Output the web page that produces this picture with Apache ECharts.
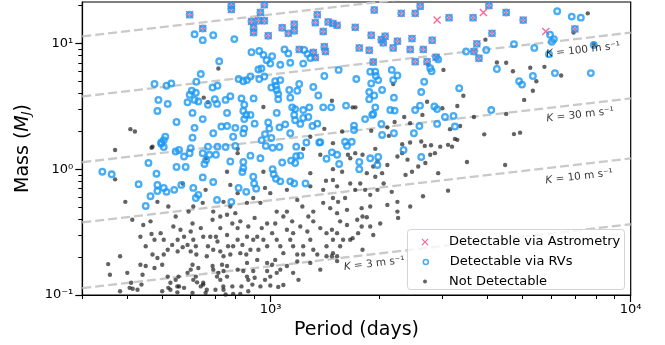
<!DOCTYPE html>
<html><head><meta charset="utf-8">
<script src="https://cdn.jsdelivr.net/npm/echarts@6/dist/echarts.min.js"></script>
<style>html,body{margin:0;padding:0;background:#fff}#c{width:665px;height:345px}</style>
</head><body><div id="c"></div><script>
// ---------- data (period in days, mass in Jupiter masses) ----------
const periodRange = [300, 10000];
const massRange = [0.1, 21.3];
const xMajorTicks = [1000, 10000];
const xMinorTicks = [300,400,500,600,700,800,900,2000,3000,4000,5000,6000,7000,8000,9000];
const yMajorTicks = [0.1, 1, 10];
const yMinorTicks = [0.2,0.3,0.4,0.5,0.6,0.7,0.8,0.9,2,3,4,5,6,7,8,9,20];

// RV semi-amplitude reference lines: K (m/s) and mass at the two ends of the period range
const kValues = [3, 10, 30, 100, 300];
const kMassAtPmin = [0.1135, 0.378, 1.135, 3.78, 11.35];
const kMassAtPmax = [0.365, 1.217, 3.65, 12.17, 36.5];
const kLabelK = [3, 10, 30, 100];
const kLabelPeriod = [1940, 7190, 7236, 7375];
const kLabelMass = [0.177, 0.87, 2.7, 8.85];

// detectable via astrometry AND RVs
const astroWithRv = [[596,16.9],[778,20.0],[778,18.6],[961,20.3],[937,17.6],[885,14.9],[925,15.1],[961,15.1],[897,13.3],[897,12.2],[648,13.1],[985,11.5],[1077,13.3],[1163,14.2],[1163,12.6],[1120,12.0],[1348,16.9],[1331,14.6],[1400,12.4],[1445,14.8],[1490,14.4],[1530,13.9],[1718,13.4],[1940,18.4],[1903,11.6],[1763,9.2],[1879,8.8],[1928,7.1],[1201,8.95],[1314,8.45],[1331,7.7],[1410,9.4],[1420,8.6],[2306,17.3],[2521,17.3],[2603,19.7],[3130,16.0],[3650,16.0],[4040,20.0],[4510,17.6],[5030,15.3],[7000,13.0],[4120,12.0],[3740,9.9],[3670,8.6],[3790,7.6],[2030,10.7],[2080,11.4],[2055,10.1],[2190,9.2],[2250,10.4],[2470,10.9],[2442,8.95],[2655,8.95],[2810,10.6],[2880,7.75],[2521,7.15],[2720,7.15]];
// detectable via astrometry only
const astroOnly = [[2900,15.3],[3900,17.6],[5810,12.4]];
// detectable via RVs only
const rvOnly = [[615,11.8],[648,10.6],[693,11.6],[793,10.8],[1240,8.85],[1265,8.25],[1289,7.65],[1232,6.9],[1093,8.95],[1120,8.3],[1134,7.0],[1064,6.75],[885,8.5],[930,8.7],[955,8.1],[975,7.35],[998,6.9],[1010,7.9],[720,7.2],[925,6.2],[943,6.3],[640,5.7],[622,4.95],[476,4.75],[514,4.6],[530,4.8],[604,4.2],[596,3.9],[620,4.05],[615,3.55],[630,3.45],[670,3.25],[700,3.6],[710,3.3],[690,4.45],[712,4.6],[815,5.2],[840,5.0],[860,5.1],[879,5.45],[930,5.2],[961,5.45],[1030,5.0],[1064,5.1],[1005,4.45],[1035,4.6],[1040,4.26],[1050,3.95],[1050,3.6],[1127,4.26],[1201,4.75],[1186,4.2],[1134,3.7],[1357,3.85],[1314,4.5],[1410,5.5],[1545,6.15],[1730,5.2],[1879,4.1],[1903,4.8],[1953,5.95],[1990,5.1],[1940,3.85],[1473,3.1],[1400,3.1],[1620,3.2],[1953,3.1],[1915,2.7],[488,3.55],[518,3.3],[485,2.9],[548,2.37],[588,3.4],[607,2.8],[648,2.5],[757,2.8],[773,3.8],[750,3.55],[830,3.65],[845,3.25],[897,3.65],[840,2.9],[856,2.7],[845,2.5],[879,2.7],[1040,2.8],[1148,3.1],[1170,3.0],[1232,2.95],[1281,3.1],[1273,2.6],[1232,2.55],[1163,2.7],[1170,2.45],[985,2.35],[992,2.1],[1058,2.15],[1098,2.27],[903,2.3],[798,2.13],[787,1.81],[845,2.1],[840,1.93],[730,2.18],[757,2.2],[693,1.93],[615,2.13],[510,1.81],[505,1.7],[497,1.59],[607,1.78],[965,1.9],[945,1.7],[1005,1.77],[1134,1.93],[1209,2.29],[1307,2.2],[1348,2.3],[1374,1.64],[1705,2.22],[1705,2.05],[1830,2.5],[1928,2.75],[1610,1.65],
[6250,18.0],[6860,16.3],[7270,16.0],[5970,11.7],[6120,10.8],[6040,10.3],[5930,8.2],[5400,9.2],[4740,9.85],[3970,8.85],[3490,8.6],[2920,7.45],[2775,6.35],[2800,6.0],[1891,5.95],[1960,5.5],[2170,6.15],[2190,5.1],[2250,5.55],[2040,4.26],[1879,3.6],[2200,3.7],[2670,4.95],[2620,4.1],[3340,4.4],[4250,6.25],[4900,5.0],[4990,4.7],[5350,5.5],[6160,5.8],[7750,5.8],[7900,9.7],[4100,2.95],[2030,2.29],[2040,1.87],[2150,2.95],[2210,2.92],[2200,1.93],[2520,2.95],[2600,3.2],[2590,2.2],[2500,1.93],[2850,3.15],[2900,3.0],[2900,2.29],[3050,2.6],[3220,2.65],[3250,2.18],
[341,0.955],[362,0.91],[458,1.12],[482,0.92],[430,0.76],[464,0.61],[450,0.51],[485,0.75],[485,0.67],[505,0.71],[514,0.66],[540,0.685],[565,0.75],[548,1.04],[581,1.04],[545,1.38],[557,1.42],[575,1.26],[596,1.34],[600,1.47],[497,1.63],[505,1.5],[610,0.71],[630,0.625],[620,0.59],[648,0.86],[648,1.34],[662,1.18],[655,1.1],[676,1.3],[705,1.3],[712,1.51],[670,1.51],[693,0.79],[710,0.57],[750,1.5],[773,1.15],[798,1.53],[840,1.14],[840,1.02],[835,0.95],[815,0.71],[856,0.66],[778,0.55],[879,1.28],[937,1.22],[895,0.87],[900,0.77],[912,0.7],[970,1.53],[1013,1.48],[1058,1.5],[1013,1.0],[1020,0.91],[1035,0.84],[1064,0.8],[1077,1.13],[1140,1.17],[1170,1.12],[1134,0.8],[1163,0.77],[1178,1.51],[1178,1.27],[1209,1.28],[1257,1.63],[1250,0.77],[1365,1.63],[1430,1.21],[1480,1.36],[1530,1.3],[1550,1.1],[1630,1.53],[1763,1.14],[1763,1.0],[1891,1.22],[1980,1.08],[1990,1.25],[1680,1.65],[2340,1.42],[2620,1.25]];
// not detectable
const nonDetections = [[652,3.7],[670,3.4],[716,6.3],[955,3.12],[1480,3.5],[1690,3.1],[1720,3.1],[408,2.08],[420,1.99],[467,1.48],[370,1.42],[810,1.45],[1232,1.45],[1289,1.81],[1410,2.09],[1490,1.61],[1580,1.99],[1903,2.02],[1953,1.45],
[3950,10.7],[6940,12.2],[7600,17.3],[7900,9.9],[2740,6.75],[3020,6.15],[4250,7.05],[4510,7.0],[4710,6.0],[5260,6.4],[5760,6.5],[5470,5.0],[5350,4.2],[5060,3.55],[6410,5.55],[2190,4.75],[3430,3.83],[2720,3.43],[2350,2.6],[2210,2.37],[2440,2.32],[2640,2.7],[3000,3.05],[3300,3.18],[3360,2.2],[3150,2.08],[2790,1.55],[2680,1.53],[2620,1.66],[2440,1.63],[2320,1.58],[3190,1.51],[3250,1.74],[3920,1.89],[4740,1.9],[4930,1.95],[2110,2.15],[2130,1.84],[4510,2.75],[3670,2.6],
[470,1.51],[662,1.22],[810,1.34],[1374,1.3],[1640,1.3],[1980,1.15],
[370,0.83],[757,0.955],[955,0.955],[1289,0.93],[1850,0.93],[1953,0.87],[1425,0.81],
[570,0.77],[660,0.685],[773,0.75],[810,0.645],[965,0.71],[998,0.645],[1110,0.685],[1289,0.73],[1400,0.685],[1490,0.82],[1774,0.77],[1830,0.685],[1891,0.625],
[395,0.55],[485,0.55],[520,0.505],[592,0.46],[648,0.54],[693,0.46],[773,0.505],[798,0.447],[860,0.54],[895,0.59],[903,0.41],[1040,0.46],[1085,0.42],[1148,0.385],[1186,0.57],[1225,0.505],[1314,0.46],[1400,0.54],[1464,0.49],[1490,0.59],[1530,0.447],[1540,0.55],[1630,0.475],[1800,0.42],[1891,0.505],
[413,0.396],[464,0.385],[467,0.305],[495,0.31],[537,0.35],[562,0.33],[552,0.275],[607,0.37],[640,0.34],[650,0.29],[690,0.396],[705,0.29],[783,0.37],[810,0.34],[824,0.385],[860,0.29],[810,0.275],[945,0.34],[1010,0.31],[1040,0.275],[978,0.37],[1110,0.33],[1209,0.35],[1265,0.32],[1314,0.385],[1374,0.34],[1430,0.31],[1560,0.385],[1630,0.36],[1690,0.283],[1750,0.31],[1928,0.30],
[450,0.244],[485,0.197],[505,0.275],[518,0.229],[533,0.25],[552,0.222],[575,0.29],[588,0.25],[622,0.21],[670,0.244],[712,0.266],[725,0.222],[740,0.203],[824,0.215],[835,0.25],[856,0.21],[879,0.229],[955,0.275],[978,0.244],[1064,0.244],[1085,0.215],[1155,0.244],[1186,0.21],[1314,0.229],[1348,0.21],[1430,0.244],[1490,0.215],
[354,0.176],[358,0.145],[435,0.174],[450,0.17],[500,0.174],[518,0.14],[555,0.14],[588,0.15],[607,0.174],[620,0.14],[710,0.14],[733,0.174],[757,0.17],[757,0.14],[810,0.159],[860,0.18],[860,0.14],[895,0.155],[978,0.18],[1010,0.174],[998,0.14],[1064,0.159],[1110,0.17],[1155,0.15],[1289,0.18],[1186,0.185],[1374,0.159],
[406,0.114],[410,0.125],[500,0.107],[557,0.117],[640,0.117],[650,0.125],[665,0.11],[725,0.132],[740,0.11],[783,0.117],[890,0.121],[965,0.132],[1195,0.132],
[414,0.112],[427,0.110],[438,0.121],[527,0.110],[551,0.105],[551,0.117],[575,0.114],[607,0.104],[625,0.126],[650,0.121],[660,0.104],[703,0.110],[739,0.117],[750,0.101],[787,0.102],[824,0.102],[830,0.117],[867,0.107],[937,0.117],[998,0.119],[1050,0.116],[1085,0.120],
[1490,1.0],[1580,0.955],[1664,1.22],[1718,1.34],[1800,1.3],[1980,0.685],[1928,1.05],[2040,0.93],[2110,1.08],[2250,1.26],[2320,1.34],[2400,1.19],[2370,0.9],[2470,0.955],[2570,1.05],[2690,1.12],[2775,1.3],[2860,1.34],[2958,1.51],[3110,1.56],[3300,1.71],[2920,0.93],[3510,1.14],[4480,1.08],[3110,0.675],[2650,0.61],[2250,0.55],[2110,0.52],[2260,0.41],[1850,0.415],[1790,0.49],[1560,0.244],[1530,0.31],[1480,0.203],[2170,0.66],[2060,0.77],[1664,0.77],[1718,0.685],[1610,0.59],[1530,0.73],[2016,0.37],[2250,0.46],[2442,0.505],[1891,0.35],[1740,0.396],[1664,0.275],[1530,0.203],[1800,0.229],[1480,0.33],
[441,0.145],[545,0.42],[610,0.275],[600,0.32],[665,0.203],[690,0.17],[757,0.434],[787,0.244],[725,0.34],[757,0.30],[937,0.54],[918,0.29],[1030,0.37],[918,0.19],[1134,0.275],[1232,0.244],[1590,0.275],[1790,0.35],
[600,0.159],[630,0.164],[610,0.132],[693,0.159],[716,0.15],[740,0.155],[840,0.155],[867,0.132],[903,0.137],[1030,0.19],[1040,0.15],[978,0.155],[527,0.125],[545,0.132],[520,0.114],[470,0.21],[505,0.21],[476,0.164],[570,0.24],[600,0.222],[620,0.244],[680,0.29],[693,0.229],[762,0.244],[773,0.21],[867,0.35],[895,0.275],[925,0.229],[1110,0.46],[1155,0.31],[1289,0.275],[1232,0.21],[1273,0.42],[1490,0.275],[1430,0.203],[1530,0.186],[435,0.29],[476,0.275],[443,0.36],[610,0.505],[725,0.42],[740,0.55],[382,0.203],[400,0.15],[382,0.107]];

// ---------- styling ----------
const FONT = 'DejaVu Sans';
const PINK = '#f4427d', BLUE = '#1c98f2', GRAY = 'rgba(25,25,25,0.85)';
const X_PATH = 'path://M0,1.2L1.2,0L5,3.8L8.8,0L10,1.2L6.2,5L10,8.8L8.8,10L5,6.2L1.2,10L0,8.8L3.8,5Z';
const L = Math.log10;
const toXY = arr => arr.map(p => [L(p[0]), L(p[1])]);
const SUP = {'-':'\u207B','0':'\u2070','1':'\u00B9','2':'\u00B2','3':'\u00B3','4':'\u2074'};
const pow10Label = v => '10' + String(Math.round(v)).split('').map(c => SUP[c]).join('');

const chart = echarts.init(document.getElementById('c'), null, {renderer: 'canvas'});

const lineSeries = kValues.map((k, i) => ({
  type: 'line', name: 'K' + k, silent: true, symbol: 'none', z: 1,
  data: [[L(periodRange[0]), L(kMassAtPmin[i])], [L(periodRange[1]), L(kMassAtPmax[i])]],
  lineStyle: {color: '#c9c9c9', width: 2.3, type: [9, 4]}
}));

const labelData = kLabelK.map((k, i) => ({
  name: '{i|K} = ' + k + ' m s\u207B\u00B9',
  value: [L(kLabelPeriod[i]), L(kLabelMass[i])]
}));

function legendCfg(name, left, top, size, icon, itemStyle, padLeft) {
  return {
    show: true, selectedMode: false, orient: 'vertical', left: left, top: top, padding: 0,
    itemWidth: size, itemHeight: size, z: 60,
    data: [{name: name, icon: icon, itemStyle: itemStyle}],
    textStyle: {fontFamily: FONT, fontSize: 13, color: '#000', padding: [0, 0, 0, padLeft]}
  };
}

const baseX = {type: 'value', min: L(periodRange[0]), max: L(periodRange[1]), splitLine: {show: false}};
const baseY = {type: 'value', min: L(massRange[0]), max: L(massRange[1]), splitLine: {show: false}};

const option = {
  animation: false,
  backgroundColor: '#fff',
  grid: {left: 82.3, right: 34.3, top: 2, bottom: 49.7, show: true, borderColor: '#000', borderWidth: 1.2, backgroundColor: 'transparent'},
  xAxis: [Object.assign({}, baseX, {
    position: 'bottom',
    axisLine: {show: true, onZero: false, lineStyle: {color: '#000', width: 1.2}},
    axisTick: {show: true, customValues: xMajorTicks.map(L), length: 7, lineStyle: {color: '#000', width: 1.2}},
    axisLabel: {customValues: xMajorTicks.map(L), formatter: pow10Label, fontFamily: FONT, fontSize: 13, color: '#000', margin: 8},
    name: 'Period (days)', nameLocation: 'middle', nameGap: 26,
    nameTextStyle: {fontFamily: FONT, fontSize: 19, color: '#000'}
  }), Object.assign({}, baseX, {
    position: 'bottom',
    axisLine: {show: false, onZero: false}, axisLabel: {show: false},
    axisTick: {show: true, customValues: xMinorTicks.map(L), length: 4, lineStyle: {color: '#000', width: 1}}
  })],
  yAxis: [Object.assign({}, baseY, {
    position: 'left',
    axisLine: {show: true, onZero: false, lineStyle: {color: '#000', width: 1.2}},
    axisTick: {show: true, customValues: yMajorTicks.map(L), length: 7, lineStyle: {color: '#000', width: 1.2}},
    axisLabel: {customValues: yMajorTicks.map(L), formatter: pow10Label, fontFamily: FONT, fontSize: 13, color: '#000', margin: 9},
    name: 'Mass ({i|M}{sub|J})', nameLocation: 'middle', nameGap: 49,
    nameTextStyle: {fontFamily: FONT, fontSize: 19, color: '#000',
      rich: {i: {fontFamily: FONT, fontSize: 19, fontStyle: 'italic', color: '#000'},
             sub: {fontFamily: FONT, fontSize: 13, fontStyle: 'italic', color: '#000', padding: [7, 0, 0, 0]}}}
  }), Object.assign({}, baseY, {
    position: 'left',
    axisLine: {show: false, onZero: false}, axisLabel: {show: false},
    axisTick: {show: true, customValues: yMinorTicks.map(L), length: 4, lineStyle: {color: '#000', width: 1}}
  })],
  legend: [
    legendCfg('Detectable via Astrometry', 421.5, 235.5, 7, X_PATH, {color: PINK}, 15.5),
    legendCfg('Detectable via RVs', 422.5, 255.5, 5, 'circle', {color: 'rgba(0,0,0,0)', borderColor: BLUE, borderWidth: 1.6}, 16.5),
    legendCfg('Not Detectable', 423, 275, 4, 'circle', {color: GRAY}, 17)
  ],
  graphic: [{
    type: 'rect', left: 407, top: 229, z: 50,
    shape: {width: 217, height: 60, r: 3},
    style: {fill: 'rgba(255,255,255,0.8)', stroke: '#d4d4d4', lineWidth: 1}
  }],
  series: lineSeries.concat([
    {name: 'Not Detectable', type: 'scatter', data: toXY(nonDetections), symbol: 'circle', symbolSize: 4.4,
     itemStyle: {color: GRAY}, z: 2, silent: true},
    {name: 'Detectable via Astrometry', type: 'scatter', data: toXY(astroWithRv.concat(astroOnly)), symbol: X_PATH, symbolSize: 8,
     itemStyle: {color: PINK}, z: 3, silent: true},
    {name: 'Detectable via RVs', type: 'scatter', data: toXY(astroWithRv.concat(rvOnly)), symbol: 'circle', symbolSize: 5.6,
     itemStyle: {color: 'rgba(0,0,0,0)', borderColor: BLUE, borderWidth: 2.3}, z: 4, silent: true},
    {name: 'kLabels', type: 'scatter', data: labelData, symbolSize: 0, silent: true, z: 5,
     label: {show: true, position: 'inside', rotate: 6.6, formatter: p => p.name,
       fontFamily: FONT, fontSize: 10.5, color: '#000',
       rich: {i: {fontFamily: FONT, fontSize: 10.5, fontStyle: 'italic', color: '#000'}}}}
  ])
};
chart.setOption(option);
</script></body></html>
